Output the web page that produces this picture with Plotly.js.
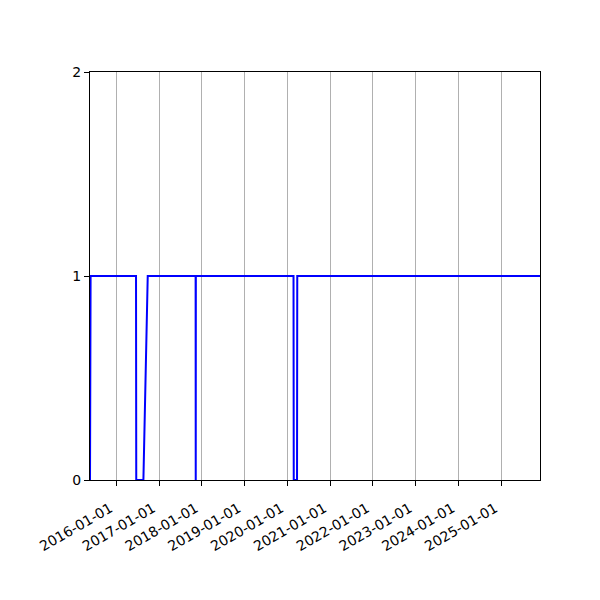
<!DOCTYPE html>
<html>
<head>
<meta charset="utf-8">
<script src="https://cdn.plot.ly/plotly-3.0.1.min.js"></script>
<style>html,body{margin:0;padding:0;background:#fff;}</style>
</head>
<body>
<div id="chart" style="width:600px;height:600px;"></div>
<script>
// Data
const dates = ['2015-05-22','2015-05-27','2016-06-18','2016-06-20','2016-08-20','2016-09-26',
               '2017-11-09','2017-11-10','2017-11-11','2020-02-23','2020-02-25','2020-03-24',
               '2020-03-26','2025-11-28'];
const values = [0,1,1,0,0,1,1,0,1,1,0,0,1,1];
const tickDates = ['2016-01-01','2017-01-01','2018-01-01','2019-01-01','2020-01-01',
                   '2021-01-01','2022-01-01','2023-01-01','2024-01-01','2025-01-01'];
const tickLabels = tickDates.slice();
const yTicks = [0,1,2];

const trace = {
  x: dates, y: values, type: 'scatter', mode: 'lines',
  line: {color: '#0000ff', width: 2}, hoverinfo: 'skip'
};

const layout = {
  width: 600, height: 600,
  margin: {l: 90, r: 60, t: 72, b: 120},
  paper_bgcolor: '#fff', plot_bgcolor: '#fff',
  font: {family: 'DejaVu Sans', size: 13, color: '#000'},
  showlegend: false,
  xaxis: {
    type: 'date',
    range: [dates[0], dates[dates.length-1]],
    tickmode: 'array', tickvals: tickDates, ticktext: tickLabels,
    tickangle: -30,
    tickfont: {family: 'DejaVu Sans', size: 14, color: '#000'},
    ticklabelstandoff: 9,
    ticklabelshift: -6,
    showgrid: true, gridcolor: '#b0b0b0', gridwidth: 1,
    showline: true, linecolor: '#000', linewidth: 1, mirror: true,
    ticks: 'outside', ticklen: 5, tickcolor: '#000',
    zeroline: false
  },
  yaxis: {
    range: [0, 2],
    tickmode: 'array', tickvals: yTicks, ticktext: yTicks.map(String),
    tickfont: {family: 'DejaVu Sans', size: 14, color: '#000'},
    showgrid: false,
    showline: true, linecolor: '#000', linewidth: 1, mirror: true,
    ticks: 'outside', ticklen: 5, tickcolor: '#000',
    zeroline: false
  }
};

Plotly.newPlot('chart', [trace], layout, {staticPlot: true, displayModeBar: false});
</script>
</body>
</html>
